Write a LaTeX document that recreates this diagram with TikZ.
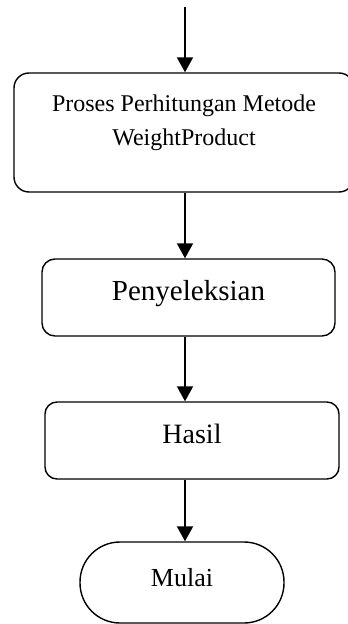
\documentclass[tikz,border=0pt]{standalone}
\usepackage{fontspec}
\setmainfont{Liberation Serif}
\usetikzlibrary{arrows.meta}
\begin{document}
\begin{tikzpicture}[x=1pt,y=-1pt,
  box/.style={draw=black, line width=1.4pt, inner sep=0pt},
  flow/.style={line width=2pt, -{Triangle[width=16pt,length=15pt]}},
  txt/.style={anchor=base, inner sep=0pt}]
\clip (0,0) rectangle (348,624);
\fill[white] (0,0) rectangle (348,624);
\coordinate (start) at (185,7);
\node[box, rounded corners=15pt, minimum width=340pt, minimum height=119pt] (b1) at (184,132.5) {};
\node[txt, font=\fontsize{24}{24}\selectfont] (t1a) at (184,111) {Proses Perhitungan Metode};
\node[txt, font=\fontsize{24}{24}\selectfont] (t1b) at (184,145) {WeightProduct};
\node[box, rounded corners=13pt, minimum width=293pt, minimum height=77pt] (b2) at (188.5,297.5) {};
\node[txt, font=\fontsize{29}{29}\selectfont] (t2) at (188.5,300) {Penyeleksian};
\node[box, rounded corners=12pt, minimum width=294pt, minimum height=77pt] (b3) at (192,440.5) {};
\node[txt, font=\fontsize{28}{28}\selectfont] (t3) at (192,443) {Hasil};
\node[box, rounded corners=40pt, minimum width=204pt, minimum height=81pt] (b4) at (182,582.5) {};
\node[txt, font=\fontsize{26}{26}\selectfont] (t4) at (182,586) {Mulai};
\draw[flow] (start) -- (start |- b1.north);
\draw[flow] (b1.south -| start) -- (b2.north -| start);
\draw[flow] (b2.south -| start) -- (b3.north -| start);
\draw[flow] (b3.south -| start) -- (b4.north -| start);
\end{tikzpicture}
\end{document}
